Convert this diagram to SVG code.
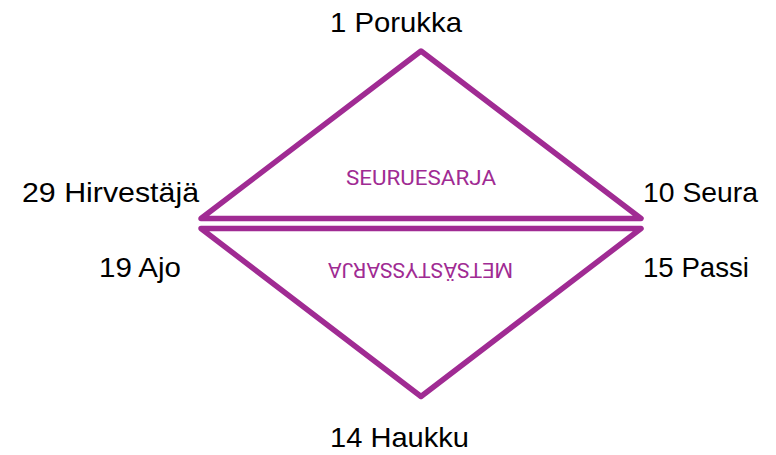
<svg xmlns="http://www.w3.org/2000/svg" width="776" height="455" viewBox="0 0 776 455">
<style>
.tri{fill:none;stroke:#A02B93;stroke-width:5.5;stroke-linejoin:round;stroke-linecap:round}
.lbl{font-family:"Liberation Sans",Arial,sans-serif;font-size:28px;fill:#000}
.ser{font-family:Roboto,"Liberation Sans",sans-serif;font-size:21px;fill:#A02B93}
</style>
<rect width="776" height="455" fill="#fff"/>
<g id="upper">
<polygon class="tri" points="201,218.5 421,51 641,218.5"/>
<text class="ser" x="421" y="185" text-anchor="middle" textLength="150" lengthAdjust="spacingAndGlyphs">SEURUESARJA</text>
</g>
<g id="lower">
<polygon class="tri" points="201,228.5 421,396.5 641,228.5"/>
<text class="ser" x="420.5" y="263" text-anchor="middle" textLength="185" lengthAdjust="spacingAndGlyphs" transform="rotate(180 420.5 263)">METSÄSTYSSARJA</text>
</g>
<g id="labels">
<text class="lbl" x="330" y="31.5" textLength="132" lengthAdjust="spacingAndGlyphs">1 Porukka</text>
<text class="lbl" x="22" y="201.5" textLength="177" lengthAdjust="spacingAndGlyphs">29 Hirvestäjä</text>
<text class="lbl" x="643" y="202" textLength="115" lengthAdjust="spacingAndGlyphs">10 Seura</text>
<text class="lbl" x="99" y="277" textLength="82" lengthAdjust="spacingAndGlyphs">19 Ajo</text>
<text class="lbl" x="643" y="277" textLength="106" lengthAdjust="spacingAndGlyphs">15 Passi</text>
<text class="lbl" x="330" y="447" textLength="139" lengthAdjust="spacingAndGlyphs">14 Haukku</text>
</g>
</svg>
